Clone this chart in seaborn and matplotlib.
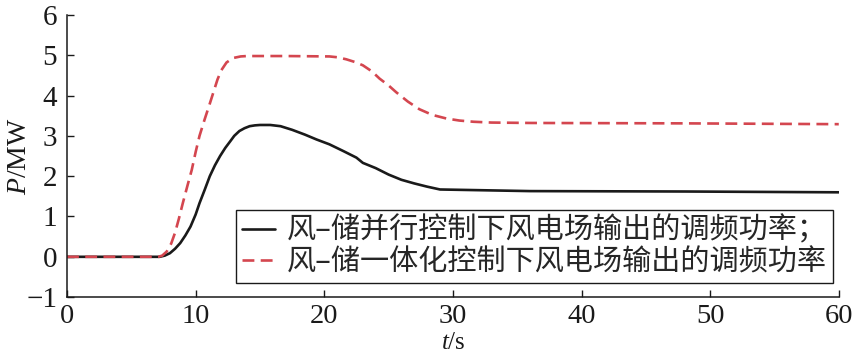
import numpy as np
import pandas as pd
import matplotlib
matplotlib.use("Agg")
import matplotlib.pyplot as plt
import seaborn as sns

# values
t_parallel = [0, 7.2, 7.6, 8.0, 8.4, 8.8, 9.2, 9.6, 10.0, 10.3, 10.7, 11.1, 11.5,
              11.9, 12.3, 12.7, 13.0, 13.4, 13.8, 14.2, 14.6, 15.0, 15.8, 16.6,
              17.5, 18.5, 19.4, 20.4, 21.5, 22.5, 23.0, 24.0, 25.0, 26.0, 27.0,
              28.0, 29.0, 36.0, 48.0, 60.0]
p_parallel = [0, 0, 0.03, 0.09, 0.2, 0.34, 0.53, 0.75, 1.05, 1.33, 1.66, 2.0, 2.27,
              2.5, 2.70, 2.87, 3.0, 3.12, 3.19, 3.24, 3.26, 3.27, 3.27, 3.24,
              3.15, 3.03, 2.91, 2.79, 2.62, 2.46, 2.33, 2.20, 2.04, 1.91, 1.82,
              1.74, 1.67, 1.63, 1.62, 1.60]

t_integrated = [0, 7.1, 7.4, 7.75, 8.1, 8.4, 8.7, 9.0, 9.35, 9.7, 10.0, 10.3, 10.7,
                11.1, 11.4, 11.7, 12.0, 12.4, 12.9, 13.5, 14.0, 17.0, 20.4, 21.0,
                21.7, 22.4, 23.0, 23.7, 24.3, 25.0, 25.6, 26.5, 27.4, 28.4, 29.5,
                30.5, 31.6, 33.0, 36.0, 48.0, 60.0]
p_integrated = [0, 0, 0.03, 0.13, 0.33, 0.6, 0.95, 1.33, 1.75, 2.16, 2.6, 3.0, 3.41,
                3.8, 4.1, 4.4, 4.63, 4.82, 4.93, 4.97, 4.98, 4.98, 4.97, 4.95,
                4.90, 4.83, 4.75, 4.60, 4.42, 4.25, 4.08, 3.85, 3.66, 3.52, 3.43,
                3.38, 3.35, 3.33, 3.32, 3.31, 3.29]

labels = ["风–储并行控制下风电场输出的调频功率；", "风–储一体化控制下风电场输出的调频功率"]
x_ticks = [0, 10, 20, 30, 40, 50, 60]
y_ticks = [-1, 0, 1, 2, 3, 4, 5, 6]

sns.set_theme(style="ticks")
plt.rcParams["font.family"] = ["Liberation Serif", "Noto Sans CJK SC"]
plt.rcParams["mathtext.fontset"] = "custom"
plt.rcParams["mathtext.rm"] = "Liberation Serif"
plt.rcParams["mathtext.it"] = "Liberation Serif:italic"
plt.rcParams["axes.unicode_minus"] = True

df1 = pd.DataFrame({"t": t_parallel, "P": p_parallel})
df2 = pd.DataFrame({"t": t_integrated, "P": p_integrated})

fig = plt.figure(figsize=(8.55, 3.55), dpi=100)
ax = fig.add_axes([0.0784, 0.163, 0.9026, 0.795])

sns.lineplot(data=df1, x="t", y="P", ax=ax, color="#1a1a1a", lw=1.9, label=labels[0])
sns.lineplot(data=df2, x="t", y="P", ax=ax, color="#d4464f", lw=1.9, label=labels[1])
ax.lines[1].set_dashes((4.5, 2.4))

ax.set_xlim(0, 60)
ax.set_ylim(-1, 6)
ax.set_xticks(x_ticks)
ax.set_yticks(y_ticks)
ax.tick_params(direction="in", length=5, width=1, labelsize=21, colors="#1a1a1a")
ax.tick_params(axis="x", pad=5, labelsize=20.5)
ax.tick_params(axis="y", pad=7)
for s in ["top", "right"]:
    ax.spines[s].set_visible(False)
for s in ["left", "bottom"]:
    ax.spines[s].set_linewidth(1.1)
    ax.spines[s].set_color("#1a1a1a")

ax.set_xlabel(r"$t$/s", fontsize=18, color="#1a1a1a")
ax.set_ylabel(r"$P$/MW", fontsize=20, color="#1a1a1a")
ax.xaxis.set_label_coords(0.5, -0.125)
ax.yaxis.set_label_coords(-0.046, 0.5)

leg = ax.legend(loc="lower right", bbox_to_anchor=(0.992, 0.05),
                frameon=True, fancybox=False, edgecolor="#1a1a1a", framealpha=1,
                handlelength=1.15, handletextpad=0.4, borderpad=0.2, labelspacing=0.05,
                borderaxespad=0, prop={"family": ["Noto Sans CJK SC"], "size": 21})
leg.get_frame().set_linewidth(1.0)

fig.savefig("out.png", dpi=100)
